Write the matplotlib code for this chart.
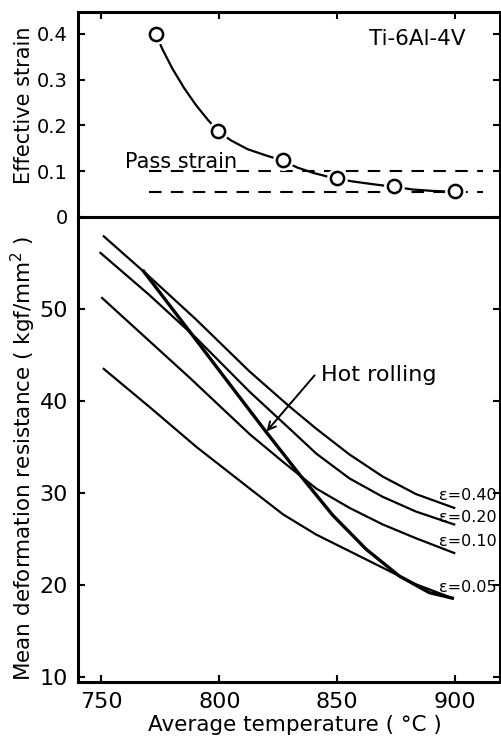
import matplotlib.pyplot as plt

plt.rcParams['font.family'] = 'DejaVu Sans'

# top panel: effective strain vs temperature
strain_temp = [773, 799.5, 827, 850, 874, 900]
strain_vals = [0.40, 0.187, 0.125, 0.085, 0.067, 0.056]
curve_temp = [773, 776, 780, 785, 790, 795, 799.5, 805, 812, 820, 827, 833, 840,
              846, 850, 856, 863, 869, 874, 882, 890, 900]
curve_vals = [0.40, 0.365, 0.325, 0.282, 0.245, 0.213, 0.187, 0.167, 0.148, 0.134,
              0.123, 0.108, 0.096, 0.088, 0.084, 0.078, 0.073, 0.069, 0.066, 0.060,
              0.057, 0.055]
pass_temp = [770, 912]
pass_hi = [0.10, 0.10]
pass_lo = [0.055, 0.055]

# bottom panel: mean deformation resistance
t40 = [751, 770, 790, 812.9, 829.8, 841.1, 855.2, 869.3, 883.4, 899.6]
r40 = [57.9, 53.6, 48.9, 43.2, 39.4, 37.0, 34.2, 31.8, 29.9, 28.4]
t20 = [749.6, 770, 790, 812.9, 829.8, 841.1, 855.2, 869.3, 883.4, 899.6]
r20 = [56.1, 51.6, 46.9, 41.0, 37.0, 34.3, 31.6, 29.6, 28.0, 26.6]
t10 = [750.3, 787.6, 812.9, 827.0, 841.1, 855.2, 869.3, 883.4, 899.6]
r10 = [51.2, 42.5, 36.4, 33.4, 30.5, 28.4, 26.6, 25.1, 23.5]
t05 = [751.0, 770.7, 790.4, 812.9, 827.0, 841.1, 855.2, 869.3, 883.4, 898.8]
r05 = [43.5, 39.3, 35.0, 30.5, 27.7, 25.5, 23.7, 21.9, 20.1, 18.6]
t_hot = [767.9, 787.6, 804.5, 820.0, 834.1, 848.1, 862.3, 876.3, 889.0, 898.8]
r_hot = [54.1, 47.5, 41.8, 36.6, 32.0, 27.6, 23.9, 21.0, 19.2, 18.6]

eps_labels = ['ε=0.40', 'ε=0.20', 'ε=0.10', 'ε=0.05']
eps_label_y = [29.7, 27.4, 24.8, 19.8]

fig = plt.figure(figsize=(5.02, 7.38), dpi=100)
ax1 = fig.add_axes([0.155, 0.706, 0.841, 0.278])
ax2 = fig.add_axes([0.155, 0.076, 0.841, 0.630])

for ax in (ax1, ax2):
    for s in ax.spines.values():
        s.set_linewidth(2.2)
    ax.set_xlim(740, 919)
    ax.set_xticks([750, 800, 850, 900])
    ax.tick_params(direction='in', length=5, width=1.5, top=True, right=True,
                   labelsize=16, pad=7)

# top panel
dash = (0, (6, 4.5))
ax1.plot(curve_temp, curve_vals, color='black', lw=1.6)
ax1.plot(pass_temp, pass_hi, color='black', lw=1.5, ls=dash)
ax1.plot(pass_temp, pass_lo, color='black', lw=1.5, ls=dash)
ax1.plot(strain_temp, strain_vals, 'o', ms=15, mfc='white', mec='white', mew=0)
ax1.plot(strain_temp, strain_vals, 'o', ms=9.5, mfc='white', mec='black', mew=1.8)
ax1.set_ylim(0, 0.448)
ax1.set_yticks([0, 0.1, 0.2, 0.3, 0.4])
ax1.set_yticklabels(['0', '0.1', '0.2', '0.3', '0.4'])
ax1.tick_params(axis='x', labelbottom=False, bottom=False)
ax1.tick_params(axis='y', labelsize=14)
ax1.spines['bottom'].set_visible(False)
ax1.text(760, 0.108, 'Pass strain', fontsize=15, ha='left', va='baseline')
ax1.text(863.6, 0.389, 'Ti-6Al-4V', fontsize=15.5, ha='left', va='center')

# bottom panel
for t, r in [(t40, r40), (t20, r20), (t10, r10), (t05, r05)]:
    ax2.plot(t, r, color='black', lw=1.6)
ax2.plot(t_hot, r_hot, color='black', lw=2.4)
for lab, yv in zip(eps_labels, eps_label_y):
    ax2.text(917.5, yv, lab, fontsize=11.5, ha='right', va='center')
ax2.annotate('', xy=(820.0, 36.7), xytext=(840.4, 42.8),
             arrowprops=dict(arrowstyle='->', color='black', lw=1.4,
                             mutation_scale=14, shrinkA=0, shrinkB=0))
ax2.text(843.2, 42.8, 'Hot rolling', fontsize=16, ha='left', va='center')
ax2.set_ylim(9.5, 60)
ax2.set_yticks([10, 20, 30, 40, 50])
ax2.tick_params(axis='x', top=False)

fig.text(0.048, 0.858, 'Effective strain', rotation=90, fontsize=15,
         ha='center', va='center')
fig.text(0.0458, 0.379, 'Mean deformation resistance ( kgf/mm$^2$ )', rotation=90,
         fontsize=15.5, ha='center', va='center')
fig.text(0.588, 0.018, 'Average temperature ( °C )', fontsize=15.5,
         ha='center', va='center')

fig.savefig('out.png', dpi=100)
